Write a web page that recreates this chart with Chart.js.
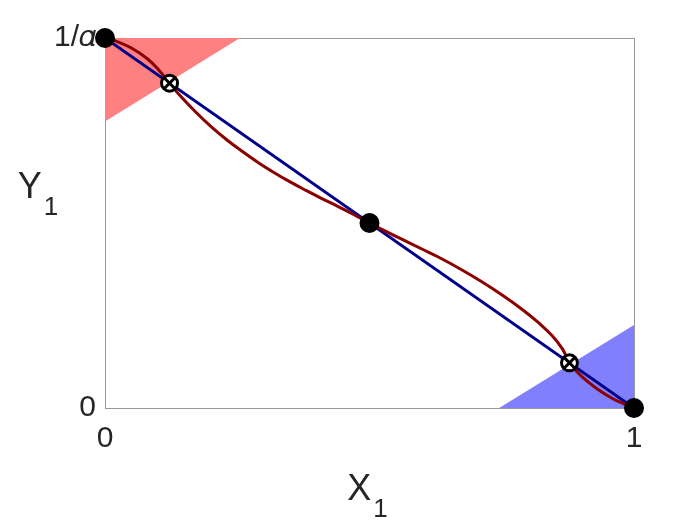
<!DOCTYPE html>
<html>
<head>
<meta charset="utf-8">
<script src="https://cdn.jsdelivr.net/npm/chart.js@4.4.0/dist/chart.umd.min.js"></script>
<style>
  html, body { margin: 0; padding: 0; background: #fff; }
</style>
</head>
<body>
<canvas id="chart" width="700" height="525"></canvas>
<script>
// кривая (тёмно-красная), значения
const curveX = [0, 0.02, 0.05, 0.08, 0.10, 0.122, 0.14, 0.17, 0.20, 0.23, 0.26, 0.29, 0.32, 0.35, 0.38, 0.41, 0.44, 0.47, 0.50,
                0.53, 0.56, 0.60, 0.63, 0.67, 0.71, 0.75, 0.79, 0.82, 0.845, 0.865, 0.878, 0.90, 0.93, 0.96, 0.98, 1.0];
const curveY = [1.000, 0.992, 0.973, 0.944, 0.916, 0.878, 0.847, 0.802, 0.761, 0.725, 0.693, 0.663, 0.636, 0.611, 0.588, 0.566, 0.545, 0.523, 0.500,
                0.478, 0.457, 0.429, 0.408, 0.377, 0.343, 0.306, 0.265, 0.230, 0.196, 0.159, 0.122, 0.087, 0.052, 0.025, 0.012, 0.000];

// прямая (тёмно-синяя)
const lineX = [0, 1];
const lineY = [1, 0];

// чёрные точки и точки с крестиком
const dotX = [0, 0.5, 1];
const dotY = [1, 0.5, 0];
const crossX = [0.122, 0.878];
const crossY = [0.878, 0.122];

// закрашенные треугольники
const redZoneX = [0, 0.255];
const redZoneY = [0.774, 1];
const blueZoneX = [0.745, 1];
const blueZoneY = [0, 0.224];

// подписи делений
const xTicks = [0, 1];
const xTickLabels = ['0', '1'];
const yTicks = [0, 1];
const yTickLabels = ['0', '1/𝛼'];

const FONT = "'Liberation Sans', Arial, sans-serif";
const TEXT = '#262626';

const pts = (xs, ys) => xs.map((x, i) => ({ x: x, y: ys[i] }));

// рамка вокруг области графика
const framePlugin = {
    id: 'frame',
    beforeDatasetsDraw(chart) {
        const a = chart.chartArea;
        const c = chart.ctx;
        c.save();
        c.strokeStyle = '#999';
        c.lineWidth = 1;
        c.strokeRect(a.left + 0.5, a.top + 0.5, a.right - a.left, a.bottom - a.top);
        c.restore();
    }
};

// подписи осей с индексами
function drawSubLabel(c, main, sub, x, y) {
    c.font = '36px ' + FONT;
    const w1 = c.measureText(main).width;
    c.font = '26px ' + FONT;
    const w2 = c.measureText(sub).width;
    const start = x - (w1 + w2 + 2) / 2;
    c.font = '36px ' + FONT;
    c.fillText(main, start, y);
    c.font = '26px ' + FONT;
    c.fillText(sub, start + w1 + 2, y + 17);
}

const titlesPlugin = {
    id: 'titles',
    afterDraw(chart) {
        const a = chart.chartArea;
        const c = chart.ctx;
        c.save();
        c.fillStyle = TEXT;
        c.textBaseline = 'alphabetic';
        c.textAlign = 'left';
        drawSubLabel(c, 'X', '1', (a.left + a.right) / 2 - 2, a.bottom + 92);
        drawSubLabel(c, 'Y', '1', 38, a.top + 160);
        c.restore();
    }
};

new Chart(document.getElementById('chart'), {
    type: 'scatter',
    data: {
        datasets: [
            {
                data: pts(crossX, crossY),
                pointStyle: 'crossRot',
                pointRadius: 7,
                borderColor: '#000',
                borderWidth: 3,
                showLine: false,
                clip: false,
                order: 0
            },
            {
                data: pts(crossX, crossY),
                pointStyle: 'circle',
                pointRadius: 8,
                backgroundColor: '#fff',
                borderColor: '#000',
                borderWidth: 3,
                showLine: false,
                clip: false,
                order: 1
            },
            {
                data: pts(dotX, dotY),
                pointStyle: 'circle',
                pointRadius: 10,
                backgroundColor: '#000',
                borderWidth: 0,
                showLine: false,
                clip: false,
                order: 2
            },
            {
                data: pts(curveX, curveY),
                showLine: true,
                borderColor: '#8b0000',
                borderWidth: 3,
                pointRadius: 0,
                tension: 0.4,
                order: 3
            },
            {
                data: pts(lineX, lineY),
                showLine: true,
                borderColor: '#00008b',
                borderWidth: 3,
                pointRadius: 0,
                order: 4
            },
            {
                data: pts(redZoneX, redZoneY),
                showLine: true,
                borderWidth: 0,
                pointRadius: 0,
                backgroundColor: '#ff8080',
                fill: 'end',
                order: 5
            },
            {
                data: pts(blueZoneX, blueZoneY),
                showLine: true,
                borderWidth: 0,
                pointRadius: 0,
                backgroundColor: '#8080ff',
                fill: 'start',
                order: 5
            }
        ]
    },
    options: {
        responsive: false,
        animation: false,
        devicePixelRatio: 1,
        layout: { padding: { left: 45, right: 66, top: 38, bottom: 57 } },
        plugins: {
            legend: { display: false },
            tooltip: { enabled: false }
        },
        scales: {
            x: {
                type: 'linear',
                min: 0,
                max: 1,
                afterBuildTicks: s => { s.ticks = xTicks.map(v => ({ value: v })); },
                afterFit: s => { s.height = 60; },
                grid: { display: false, drawTicks: false },
                border: { display: false },
                ticks: {
                    callback: v => xTickLabels[xTicks.indexOf(v)],
                    font: { family: FONT, size: 30 },
                    color: TEXT,
                    padding: 13,
                    maxRotation: 0,
                    autoSkip: false
                }
            },
            y: {
                type: 'linear',
                min: 0,
                max: 1,
                afterBuildTicks: s => { s.ticks = yTicks.map(v => ({ value: v })); },
                afterFit: s => { s.width = 60; },
                grid: { display: false, drawTicks: false },
                border: { display: false },
                ticks: {
                    callback: v => yTickLabels[yTicks.indexOf(v)],
                    font: { family: FONT, size: 30 },
                    color: TEXT,
                    padding: 9,
                    autoSkip: false
                }
            }
        }
    },
    plugins: [framePlugin, titlesPlugin]
});
</script>
</body>
</html>
